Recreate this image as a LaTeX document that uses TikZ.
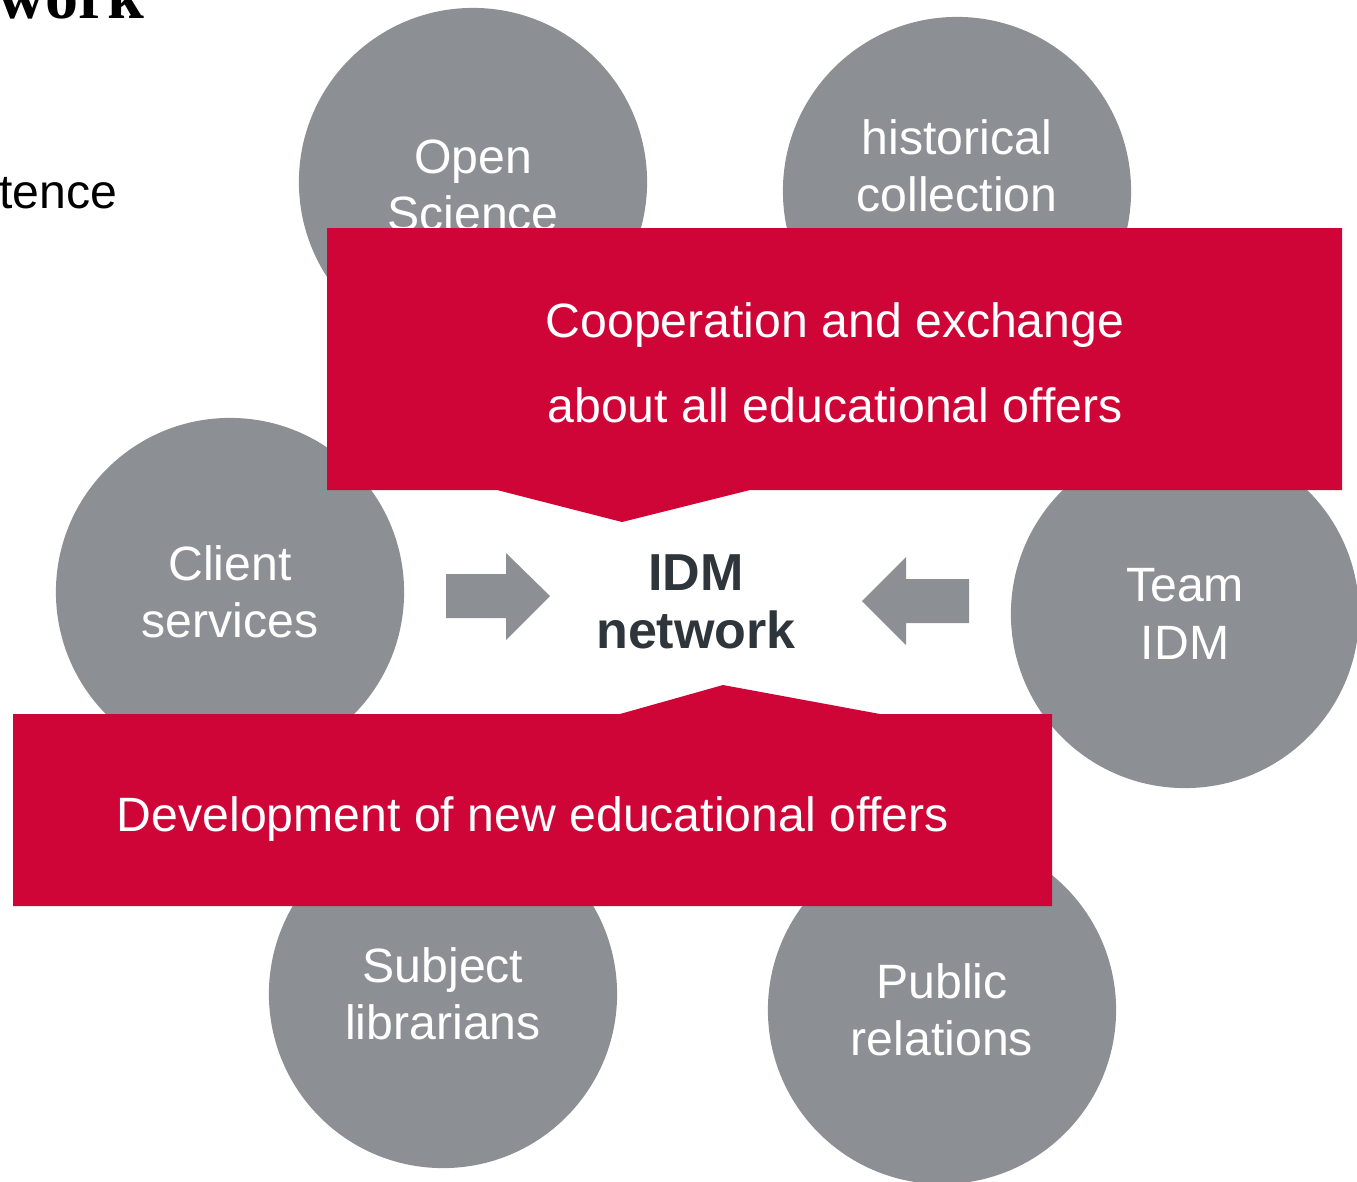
\documentclass[tikz,border=0pt]{standalone}
\usepackage{fontspec}
\setmainfont{Liberation Sans}
\newfontfamily\titlefont{Liberation Serif}
\definecolor{idmgray}{RGB}{140,144,148}
\definecolor{idmred}{RGB}{208,5,55}
\definecolor{idmdark}{RGB}{46,54,60}
\tikzset{
  bubbletext/.style={text=white,align=center,inner sep=0pt,font=\fontsize{13.7}{16.3}\selectfont},
  bubble/.style={bubbletext,circle,fill=idmgray,minimum size=3.48cm},
  banner/.style={fill=idmred},
  bannertext/.style={text=white,align=center,inner sep=0pt,font=\fontsize{13.7}{24.2}\selectfont},
  blockarrow/.style={fill=idmgray}
}
\begin{document}
\begin{tikzpicture}[x=0.01cm,y=-0.01cm]
  \useasboundingbox (0,0) rectangle (1357,1181);
  \node[anchor=base east,inner sep=0pt,font=\titlefont\bfseries\fontsize{18.8}{20}\selectfont] (title) at (145,18) {work};
  \node[anchor=base east,inner sep=0pt,font=\fontsize{13.7}{15.9}\selectfont] (sub) at (118,208) {tence};
  % the six partners
  \node[bubble] (open) at (473,182) {\strut Open\\Science};
  \node[bubble] (hist) at (957,191) {};
  \node[bubbletext] (histtext) at (957,166) {historical\\collection};
  \node[bubble] (client) at (230,592) {Client\\services};
  \node[bubble] (team) at (1185,614) {Team\\IDM};
  \node[bubble] (subject) at (443,994) {Subject\\librarians};
  \node[bubble] (public) at (942,1010) {Public\\relations};
  % red banners
  \fill[banner] (327,228) -- (1342,228) -- (1342,490) -- (750,490) -- (622,522) -- (497,490) -- (327,490) -- cycle;
  \fill[banner] (13,714) -- (620,714) -- (723,685) -- (880,714) -- (1052,714) -- (1052,906) -- (13,906) -- cycle;
  \node[bannertext] (coop) at (835,363) {Cooperation and exchange\\about all educational offers};
  \node[bannertext] (dev) at (533,819) {Development of new educational offers};
  % arrows into the middle
  \fill[blockarrow] (446,574) -- (506,574) -- (506,553) -- (550,596) -- (506,640) -- (506,618) -- (446,618) -- cycle;
  \fill[blockarrow] (969,579) -- (906,579) -- (906,557) -- (862,601) -- (906,645) -- (906,623) -- (969,623) -- cycle;
  \node[text=idmdark,align=center,inner sep=0pt,font=\bfseries\fontsize{14.8}{16.5}\selectfont] (idm) at (696,602) {IDM\\network};
\end{tikzpicture}
\end{document}
